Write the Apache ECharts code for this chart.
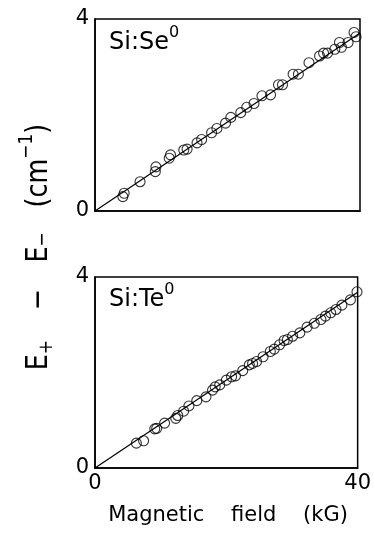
<!DOCTYPE html>
<html>
<head>
<meta charset="utf-8">
<script src="https://cdn.jsdelivr.net/npm/echarts@6/dist/echarts.min.js"></script>
<style>
  html, body { margin: 0; padding: 0; background: #fff; }
  #chart { width: 374px; height: 537px; }
</style>
</head>
<body>
<div id="chart"></div>
<script>
// Si:Se0 points (magnetic field kG, splitting cm^-1)
const seField = [4.2, 4.4, 6.8, 9.1, 9.2, 11.2, 11.4, 13.4, 13.9, 15.4, 16.1, 17.6, 18.4, 19.7, 20.5,
  22.0, 22.9, 24.0, 25.2, 26.5, 27.7, 28.3, 29.9, 30.7, 32.3, 33.9, 34.5, 35.1, 36.2, 36.9, 37.2, 38.2, 39.1, 39.4]
const seSplit = [0.30, 0.37, 0.61, 0.82, 0.92, 1.10, 1.17, 1.27, 1.29, 1.42, 1.49, 1.63, 1.72, 1.83, 1.95,
  2.05, 2.16, 2.24, 2.40, 2.42, 2.63, 2.63, 2.85, 2.85, 3.09, 3.23, 3.29, 3.29, 3.37, 3.51, 3.41, 3.51, 3.72, 3.63]
// Si:Te0 points
const teField = [6.3, 7.4, 9.1, 9.4, 10.6, 12.3, 12.6, 13.5, 14.3, 15.5, 16.9, 17.9, 18.3, 19.0, 20.0, 20.8,
  21.4, 22.5, 23.5, 24.0, 24.6, 25.6, 26.7, 27.3, 28.1, 28.8, 29.3, 30.1, 31.2, 32.3, 33.4, 34.4, 35.1,
  35.9, 36.7, 37.6, 38.9, 39.9]
const teSplit = [0.52, 0.57, 0.82, 0.83, 0.94, 1.04, 1.10, 1.19, 1.30, 1.41, 1.49, 1.63, 1.70, 1.74, 1.84, 1.91,
  1.93, 2.04, 2.16, 2.19, 2.23, 2.33, 2.44, 2.49, 2.58, 2.67, 2.69, 2.76, 2.83, 2.95, 3.03, 3.11, 3.18,
  3.25, 3.32, 3.41, 3.52, 3.69]
// straight-line fits through the origin
const seFitX = [0, 40]
const seFitY = [0, 3.71]
const teFitX = [0, 40]
const teFitY = [0, 3.68]

const zip = (xs, ys) => xs.map((x, i) => [x, ys[i]])

const chart = echarts.init(document.getElementById('chart'))

const fontFam = 'DejaVu Sans'
const labelStyle = { color: '#000', fontSize: 21, fontFamily: fontFam }

function xAx(idx, showLabel) {
  return {
    gridIndex: idx, type: 'value', min: 0, max: 40, interval: 40,
    axisLine: { lineStyle: { color: '#000', width: 1.5 } },
    axisTick: { show: false },
    splitLine: { show: false },
    axisLabel: Object.assign({ show: showLabel, margin: 5 }, labelStyle)
  }
}
function yAx(idx) {
  return {
    gridIndex: idx, type: 'value', min: 0, max: 4, interval: 4,
    axisLine: { lineStyle: { color: '#000', width: 1.5 } },
    axisTick: { show: false },
    splitLine: { show: false },
    axisLabel: Object.assign({ margin: 6 }, labelStyle)
  }
}
function pts(idx, data) {
  return {
    type: 'scatter', xAxisIndex: idx, yAxisIndex: idx, data: data,
    symbol: 'circle', symbolSize: 10,
    itemStyle: { color: 'rgba(255,255,255,0)', borderColor: '#000', borderWidth: 1.1 },
    z: 3
  }
}
function fit(idx, data) {
  return {
    type: 'line', xAxisIndex: idx, yAxisIndex: idx, data: data,
    symbol: 'none', lineStyle: { color: '#000', width: 1.2 }, z: 2
  }
}

const panelRich = {
  n: { fontSize: 24, fontFamily: fontFam, fill: '#000', lineHeight: 30, verticalAlign: 'bottom' },
  s: { fontSize: 16, fontFamily: fontFam, fill: '#000', lineHeight: 30, verticalAlign: 'top' }
}

const titleRich = {
  n: { fontSize: 30, fontFamily: fontFam, fill: '#000', lineHeight: 44 },
  b: { fontSize: 20, fontFamily: fontFam, fill: '#000', lineHeight: 44, verticalAlign: 'bottom', padding: [0, 0, 4, 0] },
  c: { fontSize: 20, fontFamily: fontFam, fill: '#000', lineHeight: 44, verticalAlign: 'bottom', padding: [0, 0, 8, 0] },
  t: { fontSize: 20, fontFamily: fontFam, fill: '#000', lineHeight: 44, verticalAlign: 'top' },
  g1: { width: 35, fontSize: 30, lineHeight: 44 },
  g2: { width: 31, fontSize: 30, lineHeight: 44 },
  g3: { width: 29, fontSize: 30, lineHeight: 44 }
}

const option = {
  animation: false,
  backgroundColor: '#fff',
  grid: [
    { left: 95, top: 19, width: 265, height: 192, show: true, borderColor: '#000', borderWidth: 1.5 },
    { left: 95, top: 277, width: 265, height: 191, show: true, borderColor: '#000', borderWidth: 1.5 }
  ],
  xAxis: [xAx(0, false), xAx(1, true)],
  yAxis: [yAx(0), yAx(1)],
  series: [
    fit(0, zip(seFitX, seFitY)),
    pts(0, zip(seField, seSplit)),
    fit(1, zip(teFitX, teFitY)),
    pts(1, zip(teField, teSplit))
  ],
  graphic: [
    {
      type: 'text', left: 109, top: 25,
      style: { text: '{n|Si:Se}{s|0}', rich: panelRich }
    },
    {
      type: 'text', left: 109, top: 282,
      style: { text: '{n|Si:Te}{s|0}', rich: panelRich }
    },
    {
      type: 'text', x: 39, y: 247, rotation: Math.PI / 2, scaleX: 0.85,
      style: {
        text: '{n|E}{b|+}{g1| }{n|\u2212}{g2| }{n|E}{c|\u2212}{g3| }{n|(cm}{t|\u22121}{n|)}',
        align: 'center', verticalAlign: 'middle',
        rich: titleRich
      }
    },
    {
      type: 'text', x: 228, y: 516,
      style: {
        text: 'Magnetic    field    (kG)', align: 'center', verticalAlign: 'middle',
        fontSize: 21, fontFamily: fontFam, fill: '#000'
      }
    }
  ]
}
chart.setOption(option)
</script>
</body>
</html>
